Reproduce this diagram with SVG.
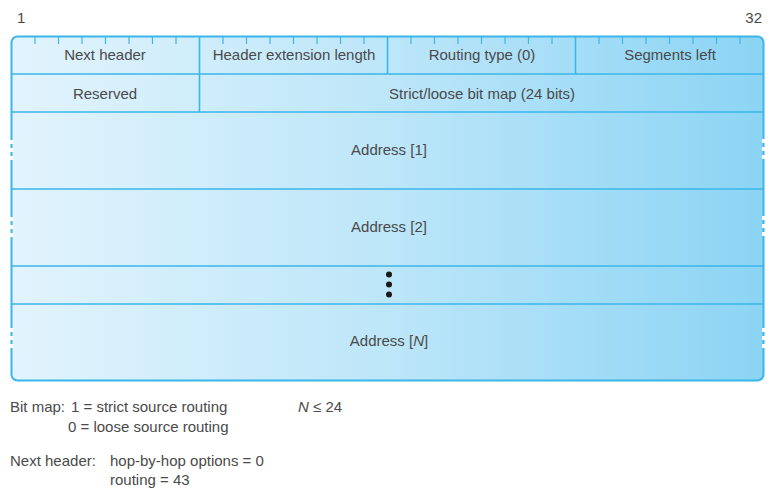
<svg xmlns="http://www.w3.org/2000/svg" width="782" height="502" viewBox="0 0 782 502">
<style>
.t{font-family:"Liberation Sans",Arial,sans-serif;font-size:15px;fill:#4a4a4a;}
.m{text-anchor:middle;}
.ln{stroke:#3ab6e8;stroke-width:1.6;fill:none;}
.box{stroke:#3ab6e8;stroke-width:2;fill:url(#g);}
.tk{stroke:#3ab6e8;stroke-width:1.2;}
.gap{stroke:#ffffff;stroke-width:3;stroke-dasharray:4 4;}
</style>
<defs>
<linearGradient id="g" x1="0" y1="0" x2="1" y2="0">
<stop offset="0" stop-color="#e2f4fd"/>
<stop offset="0.5" stop-color="#bde6f9"/>
<stop offset="1" stop-color="#8cd4f4"/>
</linearGradient>
</defs>
<text class="t" x="17" y="23">1</text>
<text class="t" x="762" y="23" text-anchor="end">32</text>
<g id="frame">
<rect x="11.5" y="36.5" width="752" height="344" rx="6" class="box"/>
</g>
<g id="connectors">
<line class="ln" x1="11" y1="74" x2="764" y2="74"/>
<line class="ln" x1="11" y1="112" x2="764" y2="112"/>
<line class="ln" x1="11" y1="189" x2="764" y2="189"/>
<line class="ln" x1="11" y1="266" x2="764" y2="266"/>
<line class="ln" x1="11" y1="304" x2="764" y2="304"/>
<line class="ln" x1="199.5" y1="36" x2="199.5" y2="112"/>
<line class="ln" x1="387.5" y1="36" x2="387.5" y2="74"/>
<line class="ln" x1="575.5" y1="36" x2="575.5" y2="74"/>
<g class="tk">
<line x1="35" y1="37" x2="35" y2="44"/><line x1="58.5" y1="37" x2="58.5" y2="44"/><line x1="82" y1="37" x2="82" y2="44"/><line x1="105.5" y1="37" x2="105.5" y2="44"/><line x1="129" y1="37" x2="129" y2="44"/><line x1="152.5" y1="37" x2="152.5" y2="44"/><line x1="176" y1="37" x2="176" y2="44"/>
<line x1="223" y1="37" x2="223" y2="44"/><line x1="246.5" y1="37" x2="246.5" y2="44"/><line x1="270" y1="37" x2="270" y2="44"/><line x1="293.5" y1="37" x2="293.5" y2="44"/><line x1="317" y1="37" x2="317" y2="44"/><line x1="340.5" y1="37" x2="340.5" y2="44"/><line x1="364" y1="37" x2="364" y2="44"/>
<line x1="411" y1="37" x2="411" y2="44"/><line x1="434.5" y1="37" x2="434.5" y2="44"/><line x1="458" y1="37" x2="458" y2="44"/><line x1="481.5" y1="37" x2="481.5" y2="44"/><line x1="505" y1="37" x2="505" y2="44"/><line x1="528.5" y1="37" x2="528.5" y2="44"/><line x1="552" y1="37" x2="552" y2="44"/>
<line x1="599" y1="37" x2="599" y2="44"/><line x1="622.5" y1="37" x2="622.5" y2="44"/><line x1="646" y1="37" x2="646" y2="44"/><line x1="669.5" y1="37" x2="669.5" y2="44"/><line x1="693" y1="37" x2="693" y2="44"/><line x1="716.5" y1="37" x2="716.5" y2="44"/><line x1="740" y1="37" x2="740" y2="44"/>
</g>
<g class="gap">
<line x1="11.5" y1="140" x2="11.5" y2="161"/>
<line x1="11.5" y1="217" x2="11.5" y2="237"/>
<line x1="11.5" y1="328" x2="11.5" y2="349"/>
<line x1="763.5" y1="139" x2="763.5" y2="160"/>
<line x1="763.5" y1="216" x2="763.5" y2="236"/>
<line x1="763.5" y1="328" x2="763.5" y2="349"/>
</g>
</g>
<g id="next-header"><text class="t m" x="105" y="60">Next header</text></g>
<g id="hdr-ext-len"><text class="t m" x="294" y="60">Header extension length</text></g>
<g id="routing-type"><text class="t m" x="482" y="60">Routing type (0)</text></g>
<g id="segments-left"><text class="t m" x="670" y="60">Segments left</text></g>
<g id="reserved"><text class="t m" x="105" y="99">Reserved</text></g>
<g id="bitmap"><text class="t m" x="482" y="99">Strict/loose bit map (24 bits)</text></g>
<g id="addr1"><text class="t m" x="389" y="155">Address [1]</text></g>
<g id="addr2"><text class="t m" x="389" y="232">Address [2]</text></g>
<g id="dots"><circle cx="389" cy="274.5" r="3" fill="#1a1a1a"/><circle cx="389" cy="284.5" r="3" fill="#1a1a1a"/><circle cx="389" cy="294.5" r="3" fill="#1a1a1a"/></g>
<g id="addrN"><text class="t m" x="389" y="346">Address [<tspan font-style="italic">N</tspan>]</text></g>
<g id="notes">
<text class="t" x="10" y="412">Bit map:</text>
<text class="t" x="71" y="412">1 = strict source routing</text>
<text class="t" x="68" y="432">0 = loose source routing</text>
<text class="t" x="298" y="412"><tspan font-style="italic">N</tspan> ≤ 24</text>
<text class="t" x="10" y="466">Next header:</text>
<text class="t" x="110" y="466">hop-by-hop options = 0</text>
<text class="t" x="110" y="485">routing = 43</text>
</g>
</svg>
